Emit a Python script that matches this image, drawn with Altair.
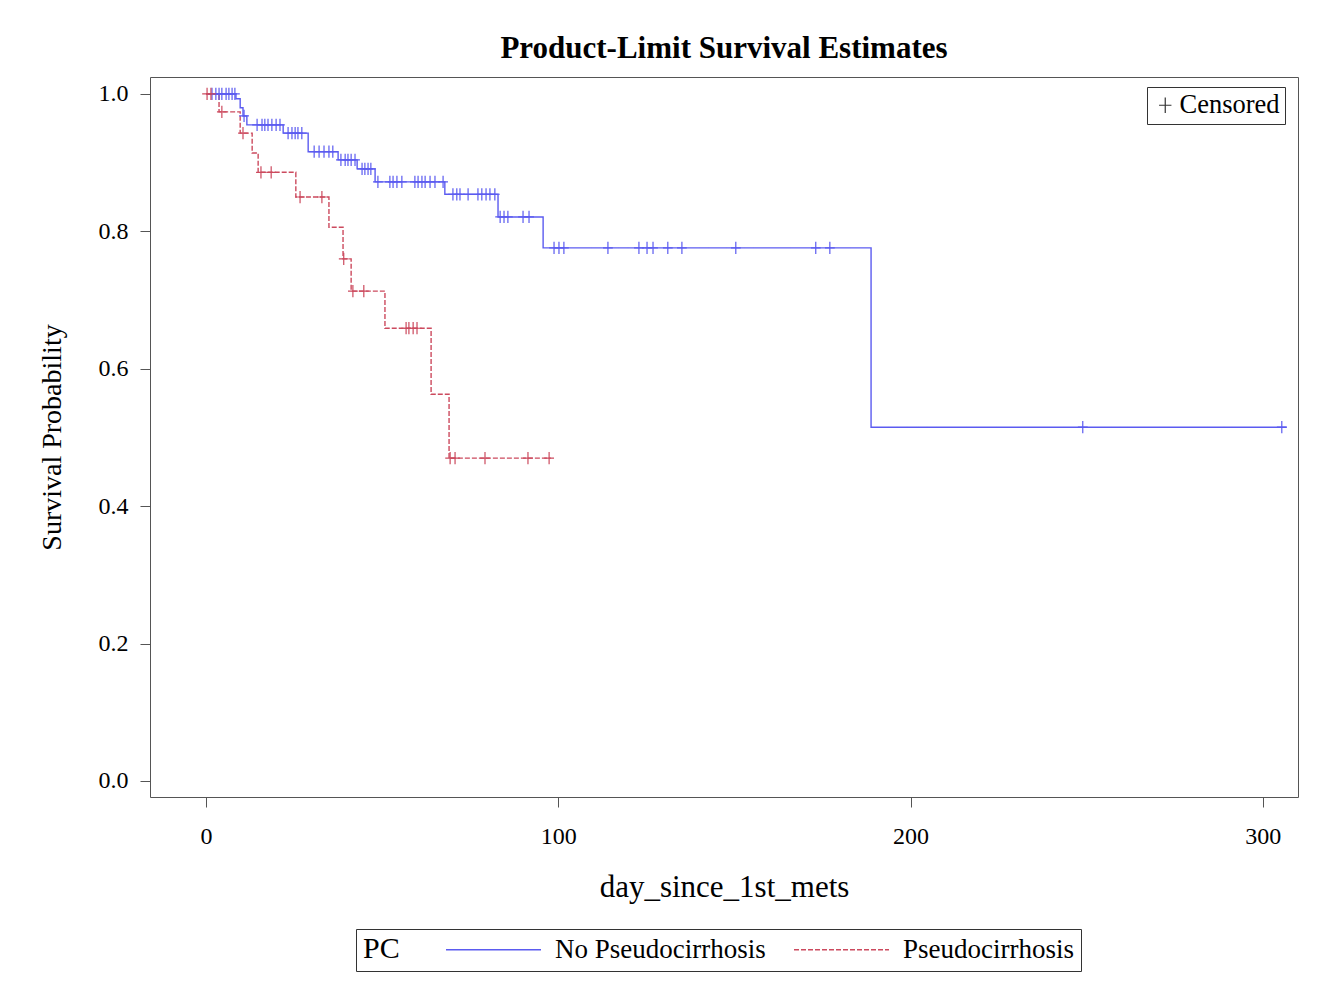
import altair as alt
import pandas as pd

SERIF = "Liberation Serif"
GROUPS = ["No Pseudocirrhosis", "Pseudocirrhosis"]

# Kaplan-Meier step points (day, survival after the step)
BLUE_T = [0, 8.5, 9.7, 10.5, 11.6, 21.9, 29.0, 37.5, 42.9, 48.0, 67.8, 82.9, 95.7, 188.8, 306.8]
BLUE_S = [1.0, 0.993, 0.980, 0.968, 0.955, 0.943, 0.916, 0.904, 0.891, 0.872, 0.854, 0.821, 0.776, 0.515, 0.515]
BLUE_CENS = [1.7, 2.8, 3.7, 4.5, 5.7, 6.5, 7.4, 8.2,
             10.8,
             14.5, 15.9, 16.7, 17.6, 18.7, 19.9, 21.0,
             23.3, 24.4, 25.3, 26.1, 27.2,
             30.7, 32.1, 33.5, 34.9, 36.0,
             38.3, 39.5, 40.3, 41.2, 42.3,
             44.3, 45.1, 46.0, 46.8,
             48.8, 52.2, 53.1, 54.2, 55.6, 59.3, 60.2, 61.3, 62.2, 63.6, 65.0, 67.3,
             70.1, 71.2, 72.1, 74.4, 77.2, 78.3, 79.5, 80.6, 82.0,
             83.5, 84.6, 85.7, 90.0, 91.7,
             98.8, 100.2, 101.6, 114.1, 122.9, 125.2, 126.9, 131.1, 135.1, 150.4, 173.1, 177.1,
             248.9, 305.4]

RED_T = [0, 3.7, 9.7, 13.1, 14.8, 25.5, 34.9, 38.9, 41.2, 50.8, 63.9, 69.0, 97.9]
RED_S = [1.0, 0.974, 0.943, 0.914, 0.886, 0.850, 0.806, 0.760, 0.713, 0.659, 0.563, 0.470, 0.470]
RED_CENS = [0.3, 1.4, 4.5, 10.5, 15.6, 18.5, 26.7, 32.9, 39.1, 41.7, 44.8,
            56.8, 57.6, 58.8, 59.9, 69.3, 70.7, 79.2, 91.4, 97.4]

X_TICKS = [0, 100, 200, 300]
Y_TICKS = [0.0, 0.2, 0.4, 0.6, 0.8, 1.0]


def level(ts, ss, d):
    s = ss[0]
    for t, v in zip(ts, ss):
        if t <= d:
            s = v
    return s


line_rows = []
for t, s in zip(BLUE_T, BLUE_S):
    line_rows.append({"day": t, "surv": s, "grp": GROUPS[0]})
for t, s in zip(RED_T, RED_S):
    line_rows.append({"day": t, "surv": s, "grp": GROUPS[1]})
line_df = pd.DataFrame(line_rows)

cens_rows = []
for d in BLUE_CENS:
    cens_rows.append({"day": d, "surv": level(BLUE_T, BLUE_S, d), "grp": GROUPS[0], "kind": "Censored"})
for d in RED_CENS:
    cens_rows.append({"day": d, "surv": level(RED_T, RED_S, d), "grp": GROUPS[1], "kind": "Censored"})
cens_df = pd.DataFrame(cens_rows)

W, H = 1148, 720
BLUE_C = "#5b5bf0"
RED_C = "#cc4a5e"
PLUS = "M-0.8,0H0.8M0,-1V1"
LONG_STROKE = "M-4,0H4"   # legend line sample, wider than its layout slot

xs = alt.Scale(domain=[-15.9, 310], nice=False, zero=False)
ys = alt.Scale(domain=[-0.0233, 1.0247], nice=False, zero=False)
x_enc = alt.X("day:Q", scale=xs,
              axis=alt.Axis(values=X_TICKS, title="day_since_1st_mets", labelPadding=17,
                            titlePadding=24, titleFontSize=31, format="d"))
y_enc = alt.Y("surv:Q", scale=ys,
              axis=alt.Axis(values=Y_TICKS, title="Survival Probability", format=".1f",
                            labelPadding=12, titlePadding=32))

legend_pc = alt.Legend(title="PC", orient="none", legendX=206, legendY=852,
                       direction="horizontal", titleOrient="left",
                       titleFont=SERIF, titleFontSize=30, titleFontWeight="normal",
                       titleColor="black", titlePadding=80, titleBaseline="middle",
                       labelFont=SERIF, labelFontSize=27, labelColor="black", labelLimit=400,
                       labelOffset=48, columnPadding=25,
                       symbolType=LONG_STROKE, symbolSize=564, symbolStrokeWidth=1.5,
                       strokeColor="#333", padding=7)

lines = alt.Chart(line_df).mark_line(interpolate="step-after", strokeWidth=1.4).encode(
    x=x_enc, y=y_enc,
    color=alt.Color("grp:N", scale=alt.Scale(domain=GROUPS, range=[BLUE_C, RED_C]), legend=legend_pc),
    strokeDash=alt.StrokeDash("grp:N", scale=alt.Scale(domain=GROUPS, range=[[1, 0], [5, 2]]),
                              legend=legend_pc),
)

cens = alt.Chart(cens_df).mark_point(filled=False, strokeWidth=1.2, size=150, opacity=1).encode(
    x=alt.X("day:Q", scale=xs), y=alt.Y("surv:Q", scale=ys),
    color=alt.condition("datum.grp == 'Pseudocirrhosis'", alt.value(RED_C), alt.value(BLUE_C)),
    shape=alt.Shape("kind:N", scale=alt.Scale(domain=["Censored"], range=[PLUS]),
                    legend=alt.Legend(title=None, orient="none", legendX=997, legendY=10,
                                      labelFont=SERIF, labelFontSize=26.5, labelColor="black",
                                      labelOffset=1, symbolSize=240, symbolStrokeColor="#333",
                                      symbolStrokeWidth=1.2, strokeColor="#333", padding=5)),
)

chart = alt.layer(lines, cens).properties(
    width=W, height=H,
    autosize=alt.AutoSizeParams(type="none"),
    padding={"left": 142, "top": 69, "right": 23, "bottom": 185},
    title=alt.Title("Product-Limit Survival Estimates", font=SERIF, fontSize=31,
                    fontWeight="bold", color="black", anchor="middle", offset=12),
).configure_view(
    stroke="#555", strokeWidth=1
).configure_axis(
    grid=False, domain=False, tickColor="#555", tickSize=10,
    labelFont=SERIF, labelFontSize=24, labelColor="black",
    titleFont=SERIF, titleFontSize=28, titleFontWeight="normal", titleColor="black",
)

chart.save("out.html", embed_options={"renderer": "svg", "actions": False})
